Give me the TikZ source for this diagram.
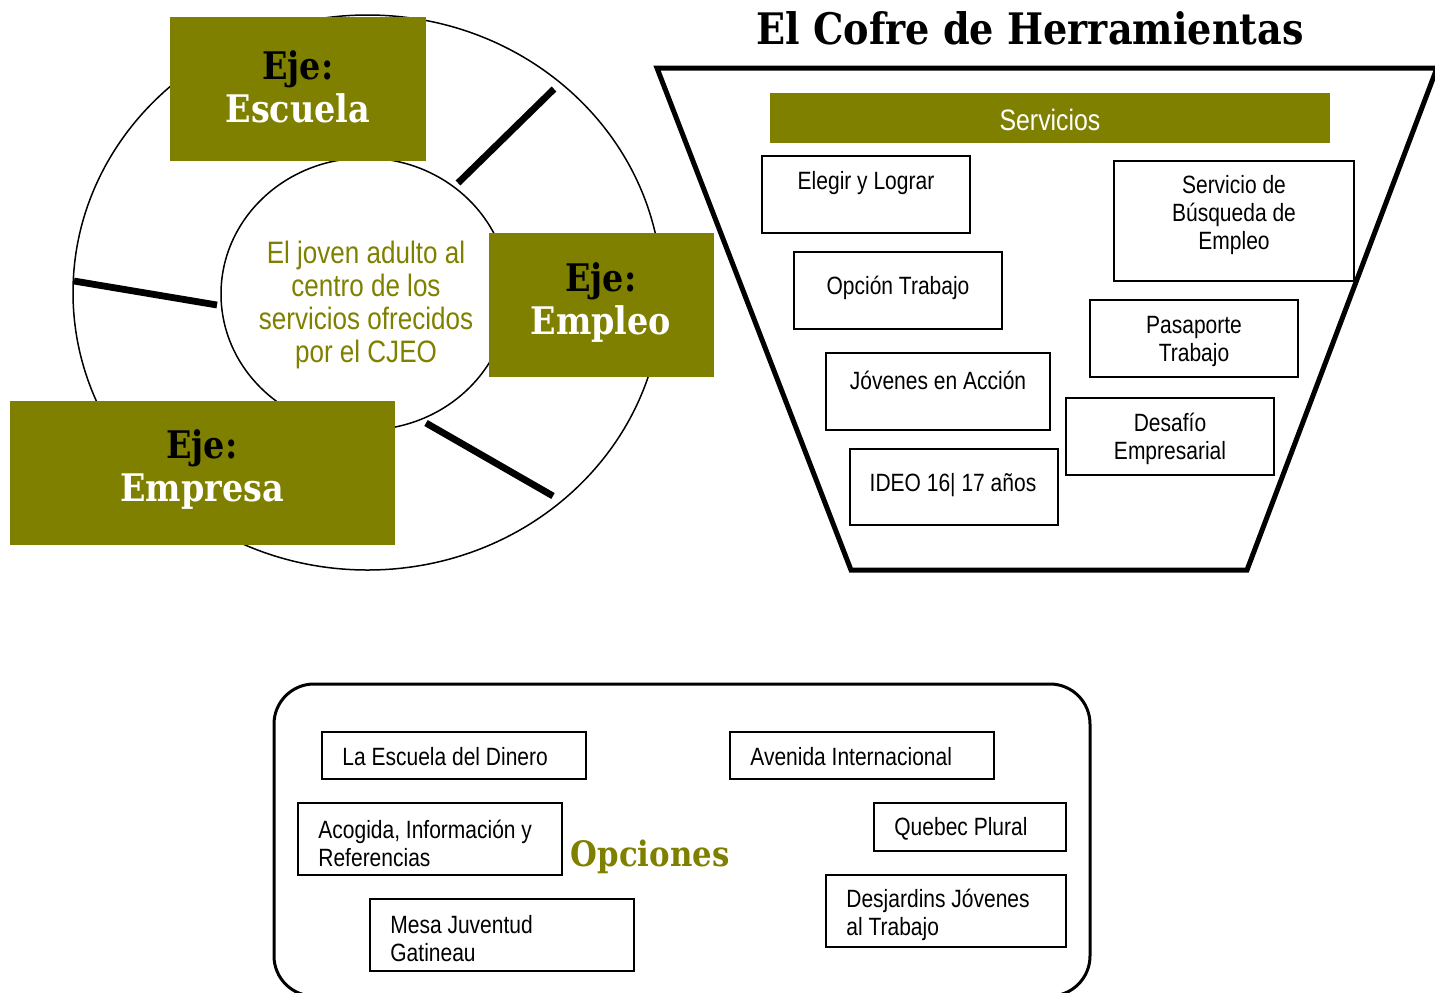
\documentclass[tikz,border=0pt]{standalone}
\usepackage{fontspec}
\newfontfamily\narrow[FakeStretch=0.84]{Liberation Sans}
\newfontfamily\cooper[FakeStretch=0.88]{DejaVu Serif}
\usetikzlibrary{fit}
\definecolor{eolive}{RGB}{128,128,0}
\tikzset{
  ejebox/.style={fill=eolive, draw=none, inner sep=0pt},
  ejetxt/.style={text=white, align=center, inner sep=0pt, font=\cooper\bfseries\fontsize{19}{21.5}\selectfont},
  box/.style={draw=black, line width=1pt, inner sep=0pt},
  btxt/.style={align=center, inner sep=0pt, font=\narrow\fontsize{12.5}{14}\selectfont},
  ltxt/.style={align=left, anchor=west, inner sep=0pt, font=\narrow\fontsize{12.5}{14}\selectfont},
  spoke/.style={line width=3.4pt},
}
\begin{document}
\begin{tikzpicture}[x=0.5pt,y=-0.5pt]
\useasboundingbox (0,0) rectangle (1435,992);
% rings
\draw[line width=0.75pt] (367.5,292.5) ellipse [x radius=294.5, y radius=277.5];
\draw[line width=0.75pt] (365,294) ellipse [x radius=144, y radius=136];
\coordinate (s1a) at (458,183); \coordinate (s1b) at (554,89);
\coordinate (s2a) at (74,281); \coordinate (s2b) at (217,305);
\coordinate (s3a) at (426,423); \coordinate (s3b) at (553,496);
\draw[spoke] (s1a) -- (s1b);
\draw[spoke] (s2a) -- (s2b);
\draw[spoke] (s3a) -- (s3b);
\node[text=eolive, align=center, inner sep=0pt, font=\narrow\fontsize{15.5}{16.5}\selectfont] (centro) at (366,305)
  {El joven adulto al\\centro de los\\servicios ofrecidos\\por el CJEO};
% eje boxes
\node[ejebox, fit={(170,17) (426,161)}] (escuela) {};
\node[ejetxt] (escuelat) at (298,87) {{\color{black}Eje:}\\Escuela};
\node[ejebox, fit={(489,233) (714,377)}] (empleo) {};
\node[ejetxt] (empleot) at (601,303) {{\color{black}Eje:}\\Empleo};
\node[ejebox, fit={(10,401) (395,545)}] (empresa) {};
\node[ejetxt] (empresat) at (202,470) {{\color{black}Eje:}\\Empresa};
% title
\node[inner sep=0pt, font=\cooper\bfseries\fontsize{21.7}{25}\selectfont] (title) at (1030,28) {El Cofre de Herramientas};
% trapezoid
\coordinate (tl) at (657,68); \coordinate (tr) at (1437,68);
\coordinate (br) at (1247,570); \coordinate (bl) at (851,570);
\draw[line width=2.5pt, line join=miter] (tl) -- (tr) -- (br) -- (bl) -- cycle;
\node[ejebox, fit={(770,93) (1330,143)}] (serv) {};
\node[text=white, inner sep=0pt, font=\narrow\fontsize{14.8}{16}\selectfont] (servt) at (1050,120) {Servicios};
% service boxes
\node[box, fit={(762,156) (970,233)}] (elegir) {};
\node[btxt] at (866,183) {Elegir y Lograr};
\node[box, fit={(1114,161) (1354,281)}] (busq) {};
\node[btxt] at (1234,215) {Servicio de\\Búsqueda de\\Empleo};
\node[box, fit={(794,252) (1002,329)}] (opcion) {};
\node[btxt] at (898,288) {Opción Trabajo};
\node[box, fit={(1090,300) (1298,377)}] (pasap) {};
\node[btxt] at (1194,341) {Pasaporte\\Trabajo};
\node[box, fit={(826,353) (1050,430)}] (jovenes) {};
\node[btxt] at (938,380) {Jóvenes en Acción};
\node[box, fit={(1066,398) (1274,475)}] (desafio) {};
\node[btxt] at (1170,439) {Desafío\\Empresarial};
\node[box, fit={(850,449) (1058,525)}] (ideo) {};
\node[btxt] at (953,485) {IDEO 16| 17 años};
% opciones
\draw[line width=1.5pt, rounded corners=20pt] (274,684) rectangle (1090,996);
\node[text=eolive, inner sep=0pt, font=\cooper\bfseries\fontsize{17.5}{20}\selectfont] (opc) at (650,857) {Opciones};
\node[box, fit={(322,732) (586,779)}] (dinero) {};
\node[ltxt] at (342,757) {La Escuela del Dinero};
\node[box, fit={(730,732) (994,779)}] (avenida) {};
\node[ltxt] at (750,757) {Avenida Internacional};
\node[box, fit={(298,803) (562,875)}] (acogida) {};
\node[ltxt] at (318,843) {Acogida, Información y\\Referencias};
\node[box, fit={(874,803) (1066,851)}] (quebec) {};
\node[ltxt] at (894,829) {Quebec Plural};
\node[box, fit={(370,899) (634,971)}] (mesa) {};
\node[ltxt] at (390,939) {Mesa Juventud\\Gatineau};
\node[box, fit={(826,875) (1066,947)}] (desj) {};
\node[ltxt] at (846,915) {Desjardins Jóvenes\\al Trabajo};
\end{tikzpicture}
\end{document}
